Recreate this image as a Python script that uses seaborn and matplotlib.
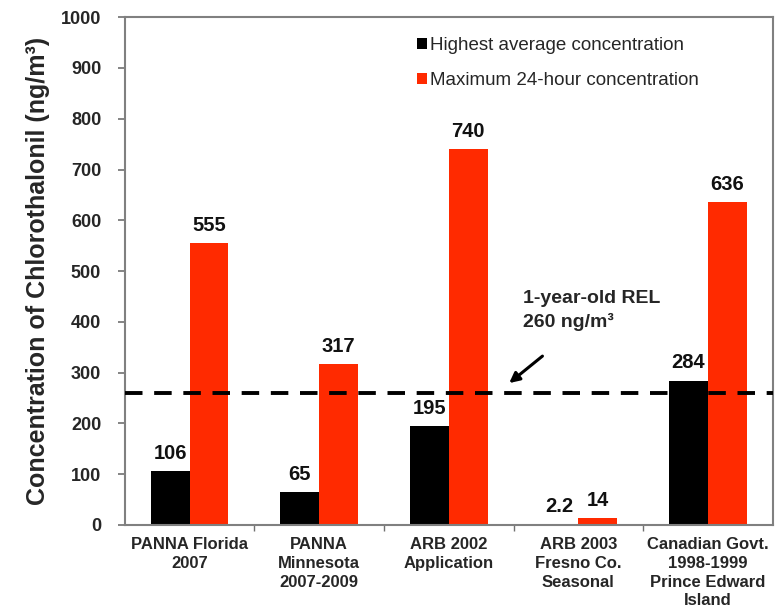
import matplotlib
matplotlib.use("Agg")
import matplotlib.pyplot as plt
import seaborn as sns
import pandas as pd
from matplotlib.ticker import FixedLocator, NullFormatter

# Study groups along the x axis
studies = [
    "PANNA Florida\n2007",
    "PANNA\nMinnesota\n2007-2009",
    "ARB 2002\nApplication",
    "ARB 2003\nFresno Co.\nSeasonal",
    "Canadian Govt.\n1998-1999\nPrince Edward\nIsland",
]
highest_avg = [106, 65, 195, 2.2, 284]
max_24h = [555, 317, 740, 14, 636]
series_names = ["Highest average concentration", "Maximum 24-hour concentration"]
rel_value = 260
y_ticks = [0, 100, 200, 300, 400, 500, 600, 700, 800, 900, 1000]

df = pd.DataFrame({
    "study": studies * 2,
    "value": highest_avg + max_24h,
    "series": [series_names[0]] * len(studies) + [series_names[1]] * len(studies),
})

sns.set_theme(style="white")
plt.rcParams["font.family"] = ["Liberation Sans", "DejaVu Sans"]

fig = plt.figure(figsize=(7.75, 6.14), dpi=100)
ax = fig.add_axes([0.161, 0.145, 0.836, 0.827])

palette = {series_names[0]: "#000000", series_names[1]: "#ff2a00"}
sns.barplot(data=df, x="study", y="value", hue="series", palette=palette,
            width=0.6, saturation=1, linewidth=0, ax=ax, order=studies,
            hue_order=series_names)

# value labels above each bar
for container in ax.containers:
    labels = [f"{v:g}" for v in container.datavalues]
    ax.bar_label(container, labels=labels, padding=6, fontsize=14.5,
                 fontweight="bold", color="#111111")

# reference exposure level
ax.axhline(rel_value, color="black", lw=2.8, ls=(0, (4.5, 3)), zorder=3)
ax.text(2.57, 463, f"1-year-old REL\n{rel_value} ng/m³", fontsize=14,
        fontweight="bold", va="top", ha="left", linespacing=1.4)
ax.annotate("", xy=(2.45, 276), xytext=(2.74, 336),
            arrowprops=dict(arrowstyle="-|>", color="black", lw=2.2,
                            mutation_scale=15))

ax.set_ylim(0, 1000)
ax.set_xlim(-0.5, 4.5)
ax.set_yticks(y_ticks)
ax.set_yticklabels([str(t) for t in y_ticks], fontsize=13, fontweight="bold")
ax.tick_params(axis="y", left=True, length=5, width=1.2, color="#707070", pad=12)
ax.tick_params(axis="x", bottom=False, labelsize=12, pad=3)
for lbl in ax.get_xticklabels():
    lbl.set_fontweight("bold")
    lbl.set_linespacing(1.3)
ax.xaxis.set_minor_locator(FixedLocator([0.5, 1.5, 2.5, 3.5]))
ax.xaxis.set_minor_formatter(NullFormatter())
ax.tick_params(axis="x", which="minor", bottom=True, length=4, width=1,
               color="#707070", direction="out")

ax.set_xlabel("")
ax.set_ylabel("Concentration of Chlorothalonil (ng/m³)", fontsize=18,
              fontweight="bold", labelpad=8)

for side in ["left", "right", "top", "bottom"]:
    ax.spines[side].set_visible(True)
    ax.spines[side].set_color("#808080")
    ax.spines[side].set_linewidth(1.5)

leg = ax.legend(loc="upper left", bbox_to_anchor=(0.44, 0.975), frameon=False,
                fontsize=13.5, handlelength=0.5, handleheight=0.5,
                handletextpad=0.15, labelspacing=0.95, borderaxespad=0)

fig.savefig("out.png", dpi=100)
